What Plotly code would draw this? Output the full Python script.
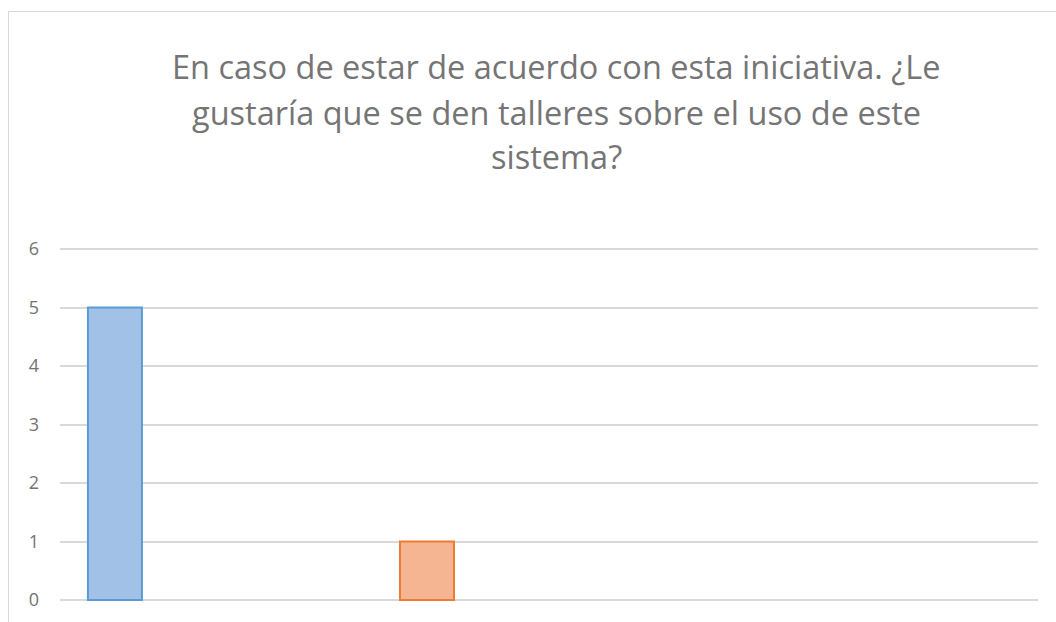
import plotly.graph_objects as go

# Data
categories = ["Sí", "No", "Tal vez"]
series_names = ["Sí", "No"]
series_values = [5, 1]
series_fill = ["#a2c1e6", "#f5b592"]
series_line = ["#5b9bd5", "#ed7d31"]
y_ticks = [0, 1, 2, 3, 4, 5, 6]
title_lines = [
    "En caso de estar de acuerdo con esta iniciativa. ¿Le",
    "gustaría que se den talleres sobre el uso de este",
    "sistema?",
]

W, H = 1056, 622
SL, SR, ST, SB = 60, 1038, 249, 600  # value-6 / value-0 pixel rows, plot x extents
unit = (SB - ST) / 6.0
PAD = 4  # px of padding so edge gridlines are drawn
L, R = SL, W - SR
T, B = ST - PAD, H - SB - PAD
plot_w = W - L - R
plot_h = H - T - B
ypad = PAD / unit

fig = go.Figure()
for name, val, fc, lc, cat in zip(series_names, series_values, series_fill, series_line, categories):
    fig.add_trace(go.Bar(
        x=[cat], y=[val], name=name,
        width=0.173,
        marker=dict(color=fc, line=dict(color=lc, width=2)),
        showlegend=False,
    ))

def py(px):
    return (H - B - px) / plot_h

def px_x(px):
    return (px - SL) / plot_w

title_y = [67, 112, 157]
for txt, ty in zip(title_lines, title_y):
    fig.add_annotation(
        text=txt, x=px_x(556), y=py(ty), xref="paper", yref="paper",
        xanchor="center", yanchor="middle", showarrow=False,
        font=dict(family="Open Sans", size=32.5, color="#757575"),
    )

# outer chart border (cropped in reference on right and bottom)
fig.add_shape(
    type="line", xref="paper", yref="paper",
    x0=px_x(8.5), x1=px_x(1200), y0=py(11.5), y1=py(11.5),
    line=dict(color="#d9d9d9", width=1), layer="below",
)
fig.add_shape(
    type="line", xref="paper", yref="paper",
    x0=px_x(8.5), x1=px_x(8.5), y0=py(11.5), y1=py(800),
    line=dict(color="#d9d9d9", width=1), layer="below",
)

fig.update_layout(
    width=W, height=H,
    margin=dict(l=L, r=R, t=T, b=B),
    paper_bgcolor="white", plot_bgcolor="white",
    barmode="overlay",
    font=dict(family="Open Sans", color="#737373"),
)
fig.update_xaxes(
    type="category", categoryorder="array", categoryarray=categories,
    range=[-0.176, 2.958], showticklabels=False, showgrid=False,
    zeroline=False, showline=False, ticks="",
)
fig.update_yaxes(
    range=[-ypad, 6 + ypad], tickvals=y_ticks, showgrid=True, gridcolor="#d9d9d9", gridwidth=1.5,
    zeroline=False, showline=False, ticks="",
    tickfont=dict(family="Open Sans", size=18, color="#737373"),
    ticklabelstandoff=20,
)

fig.write_html(
    "out.html",
    config={"displayModeBar": False},
    post_script=(
        "document.documentElement.style.overflow='hidden';"
        "document.body.style.margin='0';document.body.style.overflow='hidden';"
    ),
)
